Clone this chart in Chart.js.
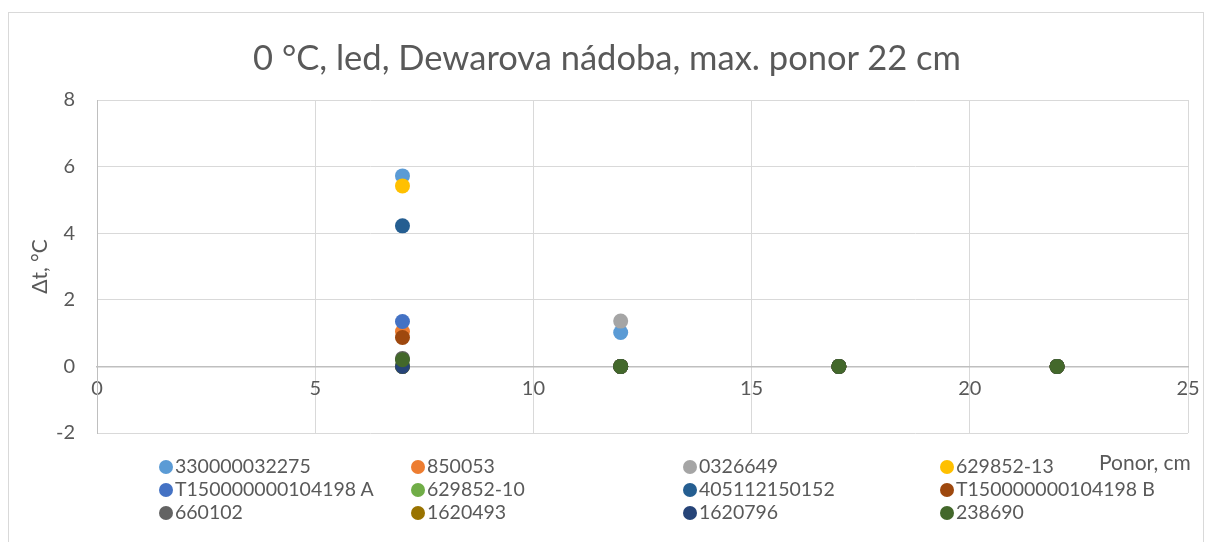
<!DOCTYPE html>
<html>
<head>
<meta charset="utf-8">
<script src="https://cdn.jsdelivr.net/npm/chart.js@4/dist/chart.umd.min.js"></script>
<style>
  html,body{margin:0;padding:0;background:#fff;}
  #wrap{position:relative;width:1214px;height:542px;overflow:hidden;font-family:Lato,"Open Sans",sans-serif;color:#595959;}
  #frame{position:absolute;left:8px;top:12px;width:1196px;height:560px;border:1px solid #D9D9D9;box-sizing:border-box;}
  #title{position:absolute;left:0;width:1214px;top:36px;text-align:center;font-size:34.5px;line-height:42px;}
  #xt{position:absolute;left:1099px;top:449px;font-size:21px;}
  .li{position:absolute;font-size:19.5px;line-height:22px;white-space:nowrap;}
  .li span{display:inline-block;width:14px;height:14px;border-radius:50%;margin-right:2px;vertical-align:-1px;}
  canvas{position:absolute;left:0;top:0;}
</style>
</head>
<body>
<div id="wrap">
  <div id="frame"></div>
  <canvas id="c" width="1214" height="542"></canvas>
  <div id="title">0 °C, led, Dewarova nádoba, max. ponor 22 cm</div>
  <div id="xt">Ponor, cm</div>
  <div id="legend"></div>
</div>
<script>
const depths = [7, 12, 17, 22];
const seriesNames = ["330000032275","850053","0326649","629852-13","T150000000104198 A","629852-10","405112150152","T150000000104198 B","660102","1620493","1620796","238690"];
const seriesColors = ["#5B9BD5","#ED7D31","#A5A5A5","#FFC000","#4472C4","#70AD47","#255E91","#9E480E","#636363","#997300","#264478","#43682B"];
const s330000032275 = [5.72, 1.02, 0, 0];
const s850053 = [1.05, 0, 0, 0];
const s0326649 = [0, 1.36, 0, 0];
const s629852_13 = [5.42, 0, 0, 0];
const sT_A = [1.35, 0, 0, 0];
const s629852_10 = [0, 0, 0, 0];
const s405112150152 = [4.22, 0, 0, 0];
const sT_B = [0.87, 0, 0, 0];
const s660102 = [0.24, 0, 0, 0];
const s1620493 = [0, 0, 0, 0];
const s1620796 = [0, 0, 0, 0];
const s238690 = [0.2, 0, 0, 0];
const seriesValues = [s330000032275,s850053,s0326649,s629852_13,sT_A,s629852_10,s405112150152,sT_B,s660102,s1620493,s1620796,s238690];
const yTicks = [-2, 0, 2, 4, 6, 8];
const xTicks = [0, 5, 10, 15, 20, 25];

const datasets = seriesNames.map((n, i) => ({
  label: n,
  data: depths.map((d, j) => ({x: d, y: seriesValues[i][j]})),
  backgroundColor: seriesColors[i],
  borderColor: seriesColors[i],
  pointRadius: 7.5,
  pointBorderWidth: 0,
  order: seriesNames.length - i
}));

new Chart(document.getElementById('c'), {
  type: 'scatter',
  data: {datasets},
  options: {
    responsive: false,
    animation: false,
    devicePixelRatio: 1,
    layout: {padding: {top: 100, right: 26, bottom: 109, left: 0}},
    plugins: {legend: {display: false}, tooltip: {enabled: false}},
    scales: {
      x: {
        type: 'linear', min: 0, max: 25,
        position: {y: 0},
        afterBuildTicks: s => { s.ticks = xTicks.map(v => ({value: v})); },
        grid: {color: '#D9D9D9', lineWidth: 1, drawTicks: false},
        border: {color: '#BFBFBF', width: 1.5},
        ticks: {color: '#595959', font: {family: 'Lato', size: 20}, padding: 10, maxRotation: 0}
      },
      y: {
        min: -2, max: 8,
        afterBuildTicks: s => { s.ticks = yTicks.map(v => ({value: v})); },
        afterFit: s => { s.width = 97; },
        grid: {color: '#D9D9D9', lineWidth: 1, drawTicks: false},
        border: {color: '#BFBFBF', width: 1},
        ticks: {color: '#595959', font: {family: 'Lato', size: 20}, padding: 22},
        title: {display: true, text: 'Δt, °C', color: '#595959', font: {family: 'Lato', size: 21}, padding: {top: 28, bottom: 0}}
      }
    }
  }
});

const legendCols = [159, 411, 683, 940];
const legendRows = [455, 478, 501];
const lg = document.getElementById('legend');
seriesNames.forEach((n, i) => {
  const d = document.createElement('div');
  d.className = 'li';
  d.style.left = legendCols[i % 4] + 'px';
  d.style.top = legendRows[Math.floor(i / 4)] + 'px';
  d.innerHTML = '<span style="background:' + seriesColors[i] + '"></span>' + n;
  lg.appendChild(d);
});
</script>
</body>
</html>
